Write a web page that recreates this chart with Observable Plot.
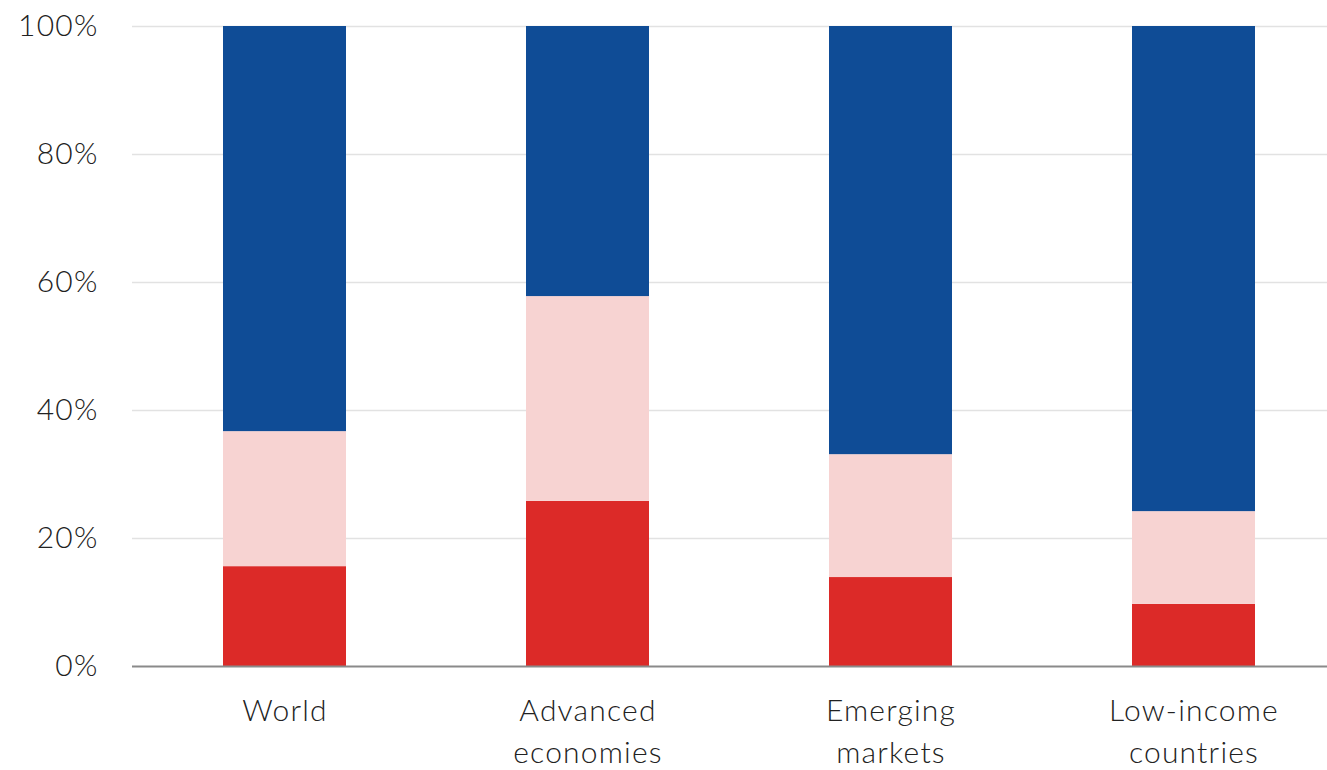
<!DOCTYPE html>
<html>
<head>
<meta charset="utf-8">
<script src="https://cdn.jsdelivr.net/npm/d3@7"></script>
<script src="https://cdn.jsdelivr.net/npm/@observablehq/plot@0.6"></script>
<style>
  html, body { margin: 0; padding: 0; background: #fff; }
  #chart svg { display: block; }
</style>
</head>
<body>
<div id="chart"></div>
<script>
const categories = ["World", "Advanced economies", "Emerging markets", "Low-income countries"];
const categoryLabels = ["World", "Advanced\neconomies", "Emerging\nmarkets", "Low-income\ncountries"];
const seriesNames = ["Bottom segment", "Middle segment", "Top segment"];
const seriesColors = ["#dc2a28", "#f7d3d2", "#0f4c96"];
const bottomValues = [15.6, 25.8, 13.9, 9.7];
const middleValues = [21.1, 32.0, 19.2, 14.5];
const topValues = [63.3, 42.2, 66.9, 75.8];
const yTicks = [0, 20, 40, 60, 80, 100];

const seriesValues = [bottomValues, middleValues, topValues];
const data = [];
seriesNames.forEach((s, si) => {
  categories.forEach((c, ci) => {
    data.push({category: c, series: s, value: seriesValues[si][ci]});
  });
});

const chart = Plot.plot({
  width: 1327,
  height: 770,
  marginTop: 26,
  marginBottom: 104,
  marginLeft: 132,
  marginRight: 0,
  style: {fontFamily: "Lato, sans-serif", fontSize: "30px", fontWeight: 300, letterSpacing: "1.2px", color: "#222", background: "#fff"},
  x: {domain: categories, range: [132, 1345.5], paddingInner: 0.595, paddingOuter: 0.2975, label: null},
  y: {domain: [0, 100], label: null},
  color: {domain: seriesNames, range: seriesColors},
  marks: [
    Plot.ruleY(yTicks.filter(d => d > 0), {stroke: "#e2e2e2", strokeWidth: 1.5}),
    Plot.barY(data, {x: "category", y: "value", fill: "series"}),
    Plot.ruleY([0], {stroke: "#8a8a8a", strokeWidth: 2}),
    Plot.axisY({ticks: yTicks, tickSize: 0, tickPadding: 34, tickFormat: d => d + "%", fontSize: 30, fill: "#222", label: null}),
    Plot.axisX({tickSize: 0, tickPadding: 25, tickFormat: d => categoryLabels[categories.indexOf(d)], lineHeight: 1.4, fontSize: 30, fill: "#222", label: null})
  ]
});
document.getElementById("chart").appendChild(chart);
</script>
</body>
</html>
